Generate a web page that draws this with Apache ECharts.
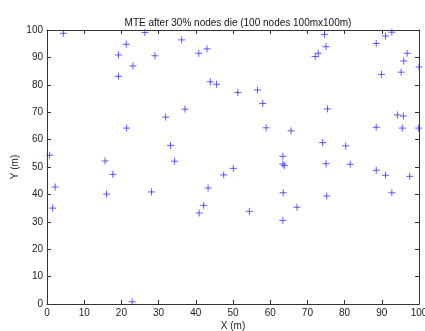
<!DOCTYPE html>
<html>
<head>
<meta charset="utf-8">
<script src="https://cdn.jsdelivr.net/npm/echarts@6/dist/echarts.min.js"></script>
<style>
  html, body { margin: 0; padding: 0; background: #fff; }
  #chart { width: 425px; height: 331px; }
</style>
</head>
<body>
<div id="chart"></div>
<script>
// surviving node positions (m)
const nodeX = [4.4, 19.2, 19.2, 21.3, 23.1, 26.3, 29.0, 36.2, 31.9, 37.1, 40.8, 43.0, 43.9, 45.6, 51.3, 56.6, 58.0,
  72.1, 72.9, 74.6, 75.0, 75.4, 88.5, 91.0, 92.7, 89.9, 96.8, 95.9, 95.2, 100, 94.2, 95.8,
  0.7, 2.2, 1.5, 15.6, 16.0, 17.7, 21.4, 28.1, 33.2, 34.3, 40.9, 42.1, 43.3, 47.5, 50.1, 54.4,
  58.9, 65.6, 63.4, 63.4, 63.8, 63.5, 67.2, 63.4, 74.1, 75.0, 75.2, 80.3, 81.5, 88.5, 88.5,
  91.0, 92.7, 97.5, 95.5, 99.9, 22.9];
const nodeY = [98.8, 90.9, 83.1, 94.8, 86.9, 99.1, 90.6, 96.4, 68.2, 71.1, 91.5, 93.1, 81.1, 80.2, 77.2, 78.1, 73.2,
  90.3, 91.5, 98.4, 93.9, 71.2, 95.1, 97.8, 99.2, 83.8, 91.5, 88.7, 84.6, 86.5, 69.0, 68.6,
  54.3, 42.7, 35.0, 52.2, 40.1, 47.3, 64.2, 40.9, 57.9, 52.1, 33.2, 36.0, 42.3, 47.1, 49.5, 33.8,
  64.3, 63.2, 53.9, 51.1, 50.5, 40.6, 35.3, 30.5, 58.9, 51.2, 39.4, 57.7, 51.0, 64.5, 48.8,
  47.0, 40.6, 46.6, 64.2, 64.2, 0.8];

const points = nodeX.map((x, i) => [x, nodeY[i]]);

const chart = echarts.init(document.getElementById('chart'));

const font = 'Liberation Sans, Arial, sans-serif';
const axisColor = '#333';

function valueAxis(pos, showLabels, name) {
  return {
    type: 'value',
    position: pos,
    min: 0,
    max: 100,
    interval: 10,
    name: name,
    nameLocation: 'middle',
    nameMoveOverlap: false,
    nameGap: pos === 'left' ? 32 : 22,
    nameTextStyle: { color: '#222', fontFamily: font, fontSize: 10, verticalAlign: 'middle' },
    axisLine: { show: true, onZero: false, lineStyle: { color: axisColor, width: 1 } },
    axisTick: { show: true, inside: true, length: 4, lineStyle: { color: axisColor } },
    axisLabel: { show: showLabels, color: '#222', fontFamily: font, fontSize: 10, margin: 4 },
    splitLine: { show: false }
  };
}

const option = {
  backgroundColor: '#fff',
  animation: false,
  title: {
    text: 'MTE after 30% nodes die (100 nodes 100mx100m)',
    left: 233,
    top: 13,
    textAlign: 'center',
    textStyle: { fontFamily: font, fontSize: 10, fontWeight: 'normal', color: '#111' }
  },
  grid: { left: 47, right: 6, top: 30, bottom: 27, containLabel: false, outerBoundsMode: 'none' },
  xAxis: [
    valueAxis('bottom', true, 'X (m)'),
    valueAxis('top', false, '')
  ],
  yAxis: [
    valueAxis('left', true, 'Y (m)'),
    valueAxis('right', false, '')
  ],
  series: [{
    type: 'scatter',
    data: points,
    symbol: 'path://M5 0 L5 10 M0 5 L10 5',
    symbolSize: 7,
    clip: false,
    itemStyle: { color: 'transparent', borderColor: '#3333ff', borderWidth: 1 }
  }]
};

chart.setOption(option);
</script>
</body>
</html>
